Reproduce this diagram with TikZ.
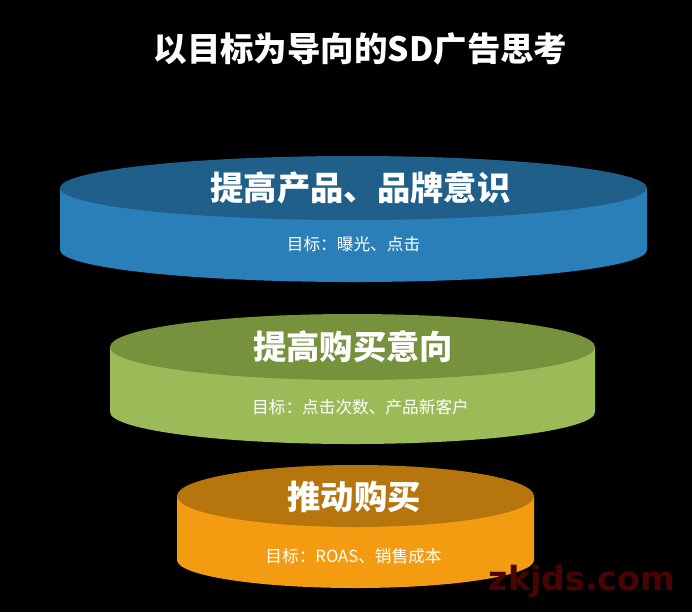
\documentclass[tikz,border=0pt]{standalone}
\usepackage{fontspec}
\setmainfont{Noto Sans CJK SC}
\newfontfamily\markfont{DejaVu Sans}
\definecolor{blueside}{HTML}{2A7FB8}
\definecolor{bluetop}{HTML}{1F5F8A}
\definecolor{greenside}{HTML}{9BBB59}
\definecolor{greentop}{HTML}{76923C}
\definecolor{orangeside}{HTML}{F39C12}
\definecolor{orangetop}{HTML}{B6750D}
\definecolor{markred}{HTML}{4A0303}
\tikzset{
titlelabel/.style={text=white,font=\bfseries\fontsize{25.1pt}{28pt}\selectfont,inner sep=0pt},
headlabel/.style={text=white,font=\bfseries\fontsize{25pt}{28pt}\selectfont,inner sep=0pt},
sublabel/.style={text=white,font=\fontsize{12.5pt}{14pt}\selectfont,inner sep=0pt},
marklabel/.style={text=markred,font=\markfont\bfseries\fontsize{25pt}{28pt}\selectfont,inner sep=0pt}
}
\begin{document}
\begin{tikzpicture}[x=0.75pt,y=-0.75pt]
\useasboundingbox[fill=black] (0,0) rectangle (692,612);
\coordinate[] (BL) at (60,188);
\coordinate[] (BR) at (647,188);
\coordinate[] (GL) at (110,347);
\coordinate[] (GR) at (595,347);
\coordinate[] (OL) at (177,496);
\coordinate[] (OR) at (534,496);
% blue disk
\fill[blueside] (BL) -- ++(0,62) arc[start angle=180,end angle=360,x radius=293.5,y radius=-32] -- (BR) -- cycle;
\fill[bluetop] (353.5,188) ellipse [x radius=293.5,y radius=32];
% green disk
\fill[greenside] (GL) -- ++(0,65) arc[start angle=180,end angle=360,x radius=242.5,y radius=-32] -- (GR) -- cycle;
\fill[greentop] (352.5,347) ellipse [x radius=242.5,y radius=33];
% orange disk
\fill[orangeside] (OL) -- ++(0,64) arc[start angle=180,end angle=360,x radius=178.5,y radius=-28] -- (OR) -- cycle;
\fill[orangetop] (355.5,496) ellipse [x radius=178.5,y radius=31];
\node[titlelabel] (title) at (360.5,49) {以目标为导向的SD广告思考};
\node[headlabel] (bluehead) at (360.5,188) {提高产品、品牌意识};
\node[sublabel] (bluesub) at (353.5,244) {目标：曝光、点击};
\node[headlabel] (greenhead) at (353,347) {提高购买意向};
\node[sublabel] (greensub) at (360.5,407) {目标：点击次数、产品新客户};
\node[headlabel] (orangehead) at (354,497) {推动购买};
\node[sublabel] (orangesub) at (353.5,556) {目标：ROAS、销售成本};
\node[marklabel] (wmark) at (582,581) {zkjds.com};
\end{tikzpicture}
\end{document}
